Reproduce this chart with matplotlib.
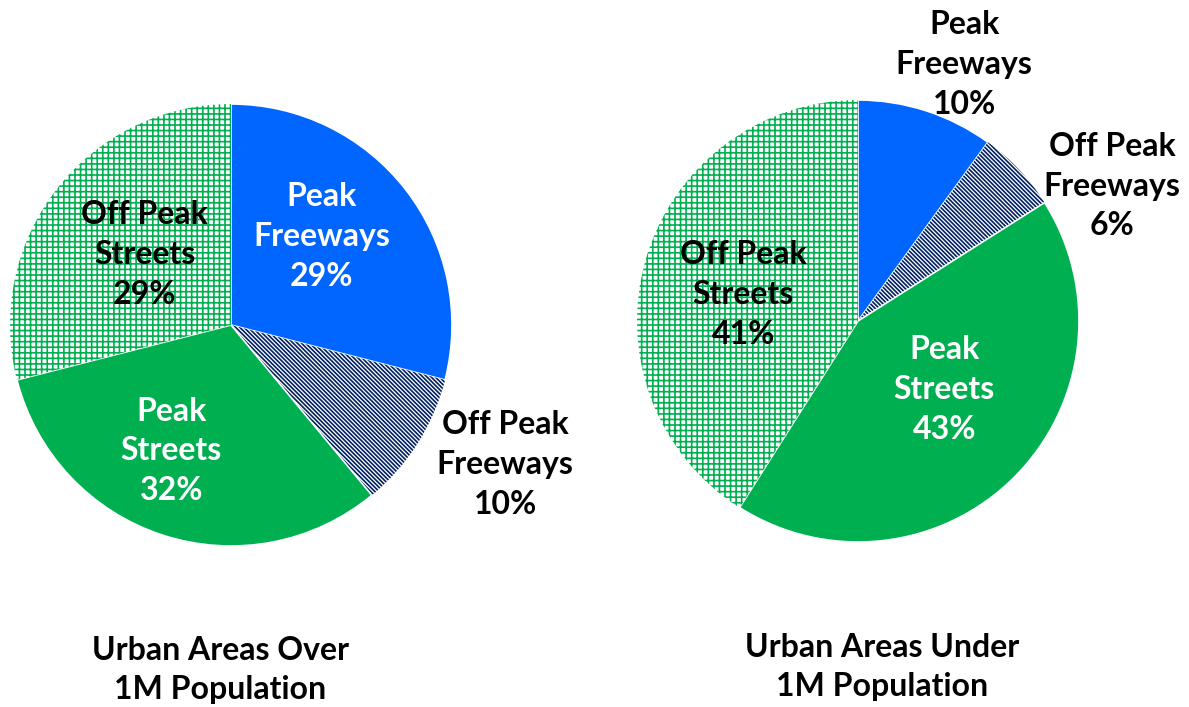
import matplotlib
matplotlib.use("Agg")
import matplotlib.pyplot as plt

plt.rcParams['font.family'] = ['Lato', 'DejaVu Sans']
plt.rcParams['hatch.linewidth'] = 1.2

categories = ['Peak\nFreeways', 'Off Peak\nFreeways', 'Peak\nStreets', 'Off Peak\nStreets']
over_1m = [29, 10, 32, 29]
under_1m = [10, 6, 43, 41]
titles = ['Urban Areas Over\n1M Population', 'Urban Areas Under\n1M Population']

BLUE = '#0066FF'
GREEN = '#00B050'
NAVY = '#002060'

W, H = 1189, 707
fig = plt.figure(figsize=(W / 100, H / 100), dpi=100)
ax = fig.add_axes([0, 0, 1, 1])


def draw_pie(values, cx, cy, r, label_pos, colors, title_xy, title):
    wedges, _ = ax.pie(values, startangle=90, counterclock=False,
                       center=(cx, H - cy), radius=r,
                       wedgeprops=dict(linewidth=1.2, edgecolor='white'))
    # peak freeways solid blue, off peak freeways navy stripes,
    # peak streets solid green, off peak streets green grid
    wedges[0].set_facecolor(BLUE)
    wedges[1].set_facecolor('white')
    wedges[1].set_edgecolor(NAVY)
    wedges[1].set_linewidth(0)
    wedges[1].set_hatch('\\' * 8)
    wedges[2].set_facecolor(GREEN)
    wedges[3].set_facecolor('white')
    wedges[3].set_edgecolor(GREEN)
    wedges[3].set_linewidth(0)
    wedges[3].set_hatch('+++')
    for cat, v, (dx, dy), c in zip(categories, values, label_pos, colors):
        ax.text(cx + dx * r, H - cy + dy * r, f"{cat}\n{v}%", ha='center', va='center',
                fontsize=23, fontweight='bold', color=c, linespacing=1.45)
    ax.text(title_xy[0], H - title_xy[1], title, ha='center', va='center',
            fontsize=23, fontweight='bold', linespacing=1.45)


draw_pie(over_1m, 231, 325, 221,
         [(0.41, 0.40), (1.24, -0.63), (-0.27, -0.57), (-0.39, 0.32)],
         ['white', 'black', 'white', 'black'],
         (220, 670), titles[0])
draw_pie(under_1m, 858, 321, 221,
         [(0.48, 1.16), (1.15, 0.61), (0.39, -0.31), (-0.52, 0.12)],
         ['black', 'black', 'white', 'black'],
         (882, 667), titles[1])

ax.set_xlim(0, W)
ax.set_ylim(0, H)
ax.set_aspect('equal')
ax.axis('off')

fig.savefig('out.png', dpi=100)
